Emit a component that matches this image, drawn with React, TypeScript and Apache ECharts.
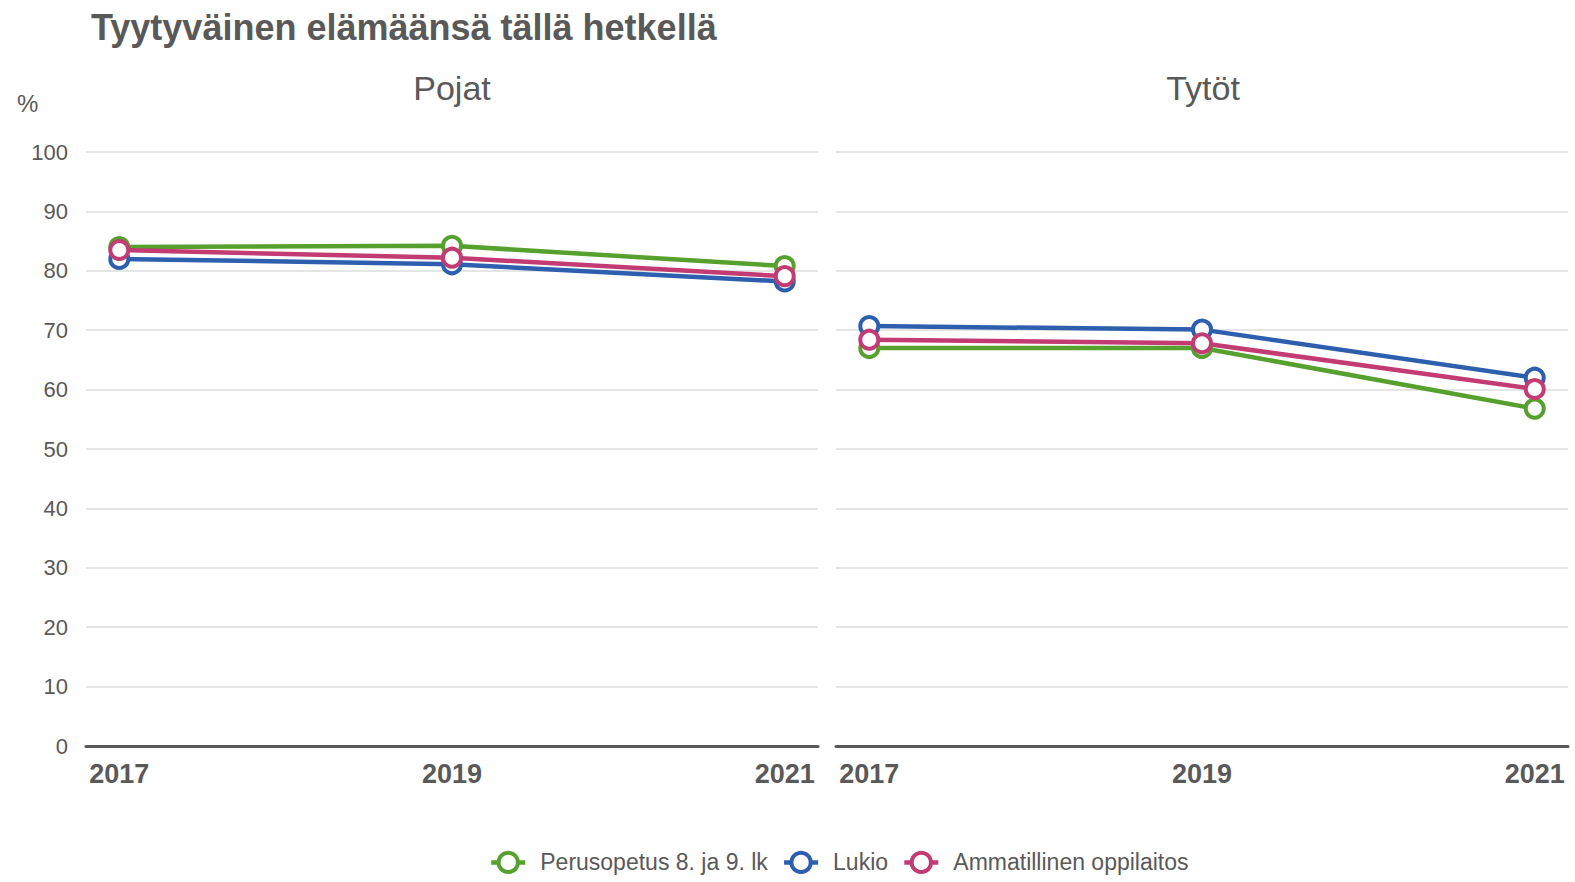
import React, { useEffect, useRef } from "react";
import * as echarts from "echarts";

const years = [2017, 2019, 2021];
const seriesNames = ["Perusopetus 8. ja 9. lk", "Lukio", "Ammatillinen oppilaitos"];
const colors = ["#56a02e", "#2e5fae", "#c23b72"];
const pojatPerus = [84.0, 84.2, 80.8];
const pojatLukio = [82.0, 81.1, 78.2];
const pojatAmmat = [83.5, 82.2, 79.1];
const tytotPerus = [67.0, 67.0, 56.8];
const tytotLukio = [70.7, 70.1, 62.0];
const tytotAmmat = [68.4, 67.8, 60.1];
const yTicks = [0, 10, 20, 30, 40, 50, 60, 70, 80, 90, 100];

const TXT = "#595959";
const FONT = "'Liberation Sans', Arial, sans-serif";

export default function App() {
  const ref = useRef<HTMLDivElement>(null);
  useEffect(() => {
    document.body.style.margin = "0";
    const chart = echarts.init(ref.current!, undefined, { renderer: "svg" });
    const pair = (arr: number[]) => years.map((y, i) => [y, arr[i]]);
    const mkSeries = (name: string, data: number[], idx: number, c: string) => ({
      type: "line",
      name,
      xAxisIndex: idx,
      yAxisIndex: idx,
      data: pair(data),
      symbol: "circle",
      symbolSize: 18,
      lineStyle: { color: c, width: 4.5 },
      itemStyle: { color: "#ffffff", borderColor: c, borderWidth: 4 },
      z: 2,
    });
    const xAxisBase = (gi: number) => ({
      type: "value",
      gridIndex: gi,
      min: 2016.8,
      max: 2021.2,
      interval: 0.2,
      splitLine: { show: false },
      axisTick: { show: false },
      axisLine: { show: true, onZero: true, lineStyle: { color: TXT, width: 3 } },
      axisLabel: {
        color: TXT,
        fontSize: 27,
        fontWeight: "bold",
        fontFamily: FONT,
        margin: 14,
        showMinLabel: true,
        showMaxLabel: true,
        formatter: (v: number) => {
          const r = Math.round(v);
          if (Math.abs(v - r) < 1e-6 && years.indexOf(r) >= 0) return String(r);
          return "";
        },
      },
    });
    const yAxisBase = (gi: number, showLabels: boolean) => ({
      type: "value",
      gridIndex: gi,
      min: yTicks[0],
      max: yTicks[yTicks.length - 1],
      interval: 10,
      axisLine: { show: false },
      axisTick: { show: false },
      splitLine: { show: true, lineStyle: { color: "#dcdcdc", width: 1.5 } },
      axisLabel: {
        show: showLabels,
        color: TXT,
        fontSize: 22,
        fontFamily: FONT,
        margin: 18,
      },
    });
    chart.setOption({
      animation: false,
      backgroundColor: "#ffffff",
      title: {
        text: "Tyytyväinen elämäänsä tällä hetkellä",
        left: 86,
        top: 4,
        textStyle: { color: TXT, fontSize: 36, fontWeight: "bold", fontFamily: FONT },
      },
      graphic: [
        {
          type: "text",
          x: 452,
          y: 88,
          style: { text: "Pojat", fill: TXT, fontSize: 34, fontFamily: FONT, textAlign: "center", textVerticalAlign: "middle" },
        },
        {
          type: "text",
          x: 1203,
          y: 88,
          style: { text: "Tytöt", fill: TXT, fontSize: 34, fontFamily: FONT, textAlign: "center", textVerticalAlign: "middle" },
        },
        {
          type: "text",
          x: 17,
          y: 103,
          style: { text: "%", fill: TXT, fontSize: 24, fontFamily: FONT, textVerticalAlign: "middle" },
        },
      ],
      legend: {
        bottom: 3,
        left: 484,
        itemWidth: 34,
        itemHeight: 24,
        itemGap: 14,
        lineStyle: { width: 4.5 },
        itemStyle: { borderWidth: 4 },
        textStyle: { color: TXT, fontSize: 23, fontFamily: FONT, padding: [0, 0, 0, 10] },
        data: seriesNames,
      },
      grid: [
        { left: 86, right: 757, top: 152, bottom: 136 },
        { left: 836, right: 7, top: 152, bottom: 136 },
      ],
      xAxis: [xAxisBase(0), xAxisBase(1)],
      yAxis: [yAxisBase(0, true), yAxisBase(1, false)],
      series: [
        mkSeries(seriesNames[0], pojatPerus, 0, colors[0]),
        mkSeries(seriesNames[1], pojatLukio, 0, colors[1]),
        mkSeries(seriesNames[2], pojatAmmat, 0, colors[2]),
        mkSeries(seriesNames[0], tytotPerus, 1, colors[0]),
        mkSeries(seriesNames[1], tytotLukio, 1, colors[1]),
        mkSeries(seriesNames[2], tytotAmmat, 1, colors[2]),
      ],
    });
    return () => chart.dispose();
  }, []);
  return <div ref={ref} style={{ width: 1575, height: 882 }} />;
}
